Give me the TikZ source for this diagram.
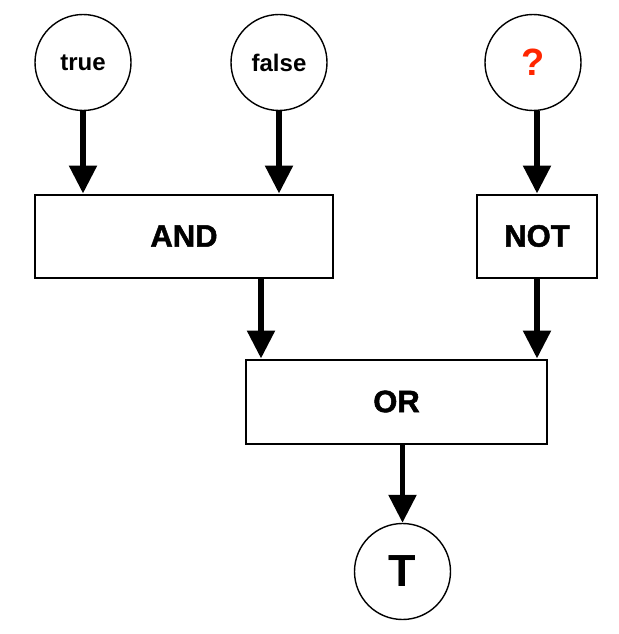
\documentclass[tikz,border=0pt]{standalone}
\usepackage{fontspec}
\setmainfont{Liberation Sans}
\newfontfamily\heavyfont[BoldFont={Liberation Sans Bold}, BoldFeatures={FakeBold=1.6}]{Liberation Sans}
\usepackage{xcolor}
\usetikzlibrary{arrows.meta,positioning,calc}
\definecolor{qred}{RGB}{255,38,0}

\begin{document}
\begin{tikzpicture}[x=1pt, y=-1pt,
    value/.style={circle, draw, line width=1.4pt, minimum size=96pt, inner sep=0pt,
                  font=\fontsize{24}{24}\selectfont\bfseries},
    gate/.style={rectangle, draw, line width=2pt, inner sep=0pt, minimum height=83pt,
                 font=\fontsize{31}{31}\selectfont\heavyfont\bfseries},
    flow/.style={line width=5.5pt, -{Triangle[length=28pt, width=27pt]}}]
    \useasboundingbox (0,0) rectangle (618,634);

    % Inputs
    \node[value] (true) at (83,62.5) {true};
    \node[value] (false) at (279,62.5) {false};
    \node[value, font=\fontsize{38}{38}\selectfont\bfseries, text=qred] (q) at (533,62.5) {?};

    % Gates
    \node[gate, minimum width=298pt] (and) at (184,236) {AND};
    \node[gate, minimum width=120pt] (not) at (537,236) {NOT};
    \node[gate, minimum width=301pt, minimum height=84pt] (or) at (396.5,401.5) {OR};

    % Result
    \node[value, font=\fontsize{45}{45}\selectfont\bfseries] (t) at (402.5,571.5) {T};

    % Wires
    \coordinate (orin) at ([xshift=16pt]or.north west);
    \draw[flow] (true) -- (true |- and.north);
    \draw[flow] (false) -- (false |- and.north);
    \draw[flow] (not |- q.south) -- (not.north);
    \draw[flow] (and.south -| orin) -- (orin);
    \draw[flow] (not) -- (not |- or.north);
    \draw[flow] (t |- or.south) -- (t.north);
\end{tikzpicture}
\end{document}
